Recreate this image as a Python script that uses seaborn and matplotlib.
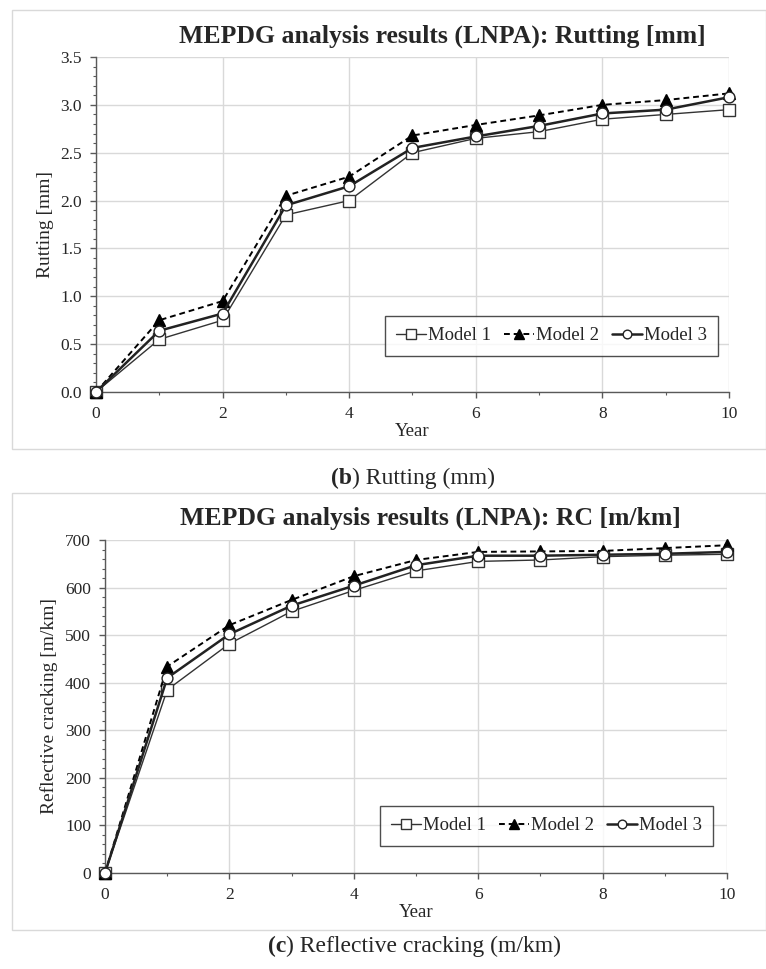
import numpy as np
import pandas as pd
import matplotlib
matplotlib.use("Agg")
import matplotlib.pyplot as plt
from matplotlib.patches import Rectangle
from matplotlib.ticker import MultipleLocator, FormatStrFormatter
import seaborn as sns

years = [0, 1, 2, 3, 4, 5, 6, 7, 8, 9, 10]
models = ["Model 1", "Model 2", "Model 3"]

rut_m1 = [0, 0.55, 0.75, 1.85, 2.00, 2.50, 2.65, 2.72, 2.85, 2.90, 2.95]
rut_m2 = [0, 0.75, 0.95, 2.05, 2.25, 2.68, 2.79, 2.89, 3.00, 3.05, 3.12]
rut_m3 = [0, 0.64, 0.82, 1.95, 2.15, 2.55, 2.67, 2.78, 2.91, 2.95, 3.08]

rc_m1 = [0, 385, 482, 550, 594, 635, 655, 658, 665, 668, 670]
rc_m2 = [0, 434, 521, 574, 624, 658, 675, 676, 677, 683, 689]
rc_m3 = [0, 410, 502, 562, 604, 647, 667, 667, 669, 671, 675]

sns.set_style("white")
plt.rcParams["font.family"] = ["Liberation Serif", "DejaVu Serif"]

W, H = 766, 969
fig = plt.figure(figsize=(W / 100, H / 100), dpi=100)

styles = {
    "Model 1": dict(marker="s", linestyle="-", lw=1.0, mfc="white", mec="#333333", ms=8.2, color="#333333"),
    "Model 2": dict(marker="^", linestyle=(0, (3, 2)), lw=1.4, mfc="black", mec="black", ms=8.6, color="black"),
    "Model 3": dict(marker="o", linestyle="-", lw=1.8, mfc="white", mec="#222222", ms=7.8, color="#222222"),
}

def panel(rect_px, frame_px, series, ylim, ymajor, yminor, yfmt, ylabel, title, title_xy,
          legend_anchor, caption, caption_xy):
    fx0, fy0, fx1, fy1 = frame_px
    fig.patches.append(Rectangle((fx0 / W, 1 - fy1 / H), (fx1 - fx0) / W, (fy1 - fy0) / H,
                                 transform=fig.transFigure, fill=False, ec="#d9d9d9", lw=1.0))
    x0, y0, x1, y1 = rect_px
    ax = fig.add_axes([x0 / W, 1 - y1 / H, (x1 - x0) / W, (y1 - y0) / H])
    rows = []
    for m, vals in zip(models, series):
        for yr, v in zip(years, vals):
            rows.append({"Year": yr, "Value": v, "Model": m})
    df = pd.DataFrame(rows)
    for m in models:
        st = styles[m]
        sns.lineplot(data=df[df["Model"] == m], x="Year", y="Value", ax=ax,
                     color=st["color"], linestyle=st["linestyle"], lw=st["lw"],
                     marker=st["marker"], markerfacecolor=st["mfc"], markeredgecolor=st["mec"],
                     markersize=st["ms"], markeredgewidth=1.0, label=m, clip_on=False, zorder=3)
    ax.set_xlim(0, 10)
    ax.set_ylim(*ylim)
    ax.xaxis.set_major_locator(MultipleLocator(2))
    ax.xaxis.set_minor_locator(MultipleLocator(1))
    ax.yaxis.set_major_locator(MultipleLocator(ymajor))
    ax.yaxis.set_minor_locator(MultipleLocator(yminor))
    ax.yaxis.set_major_formatter(yfmt)
    ax.grid(True, which="major", color="#d9d9d9", lw=1.0, zorder=0)
    ax.set_axisbelow(True)
    for s in ["top", "right"]:
        ax.spines[s].set_visible(False)
    for s in ["left", "bottom"]:
        ax.spines[s].set_color("#595959")
        ax.spines[s].set_linewidth(1.0)
    ax.tick_params(axis="both", which="major", direction="out", length=4, width=1, color="#595959",
                   labelsize=12.5, pad=6, left=True, bottom=True)
    ax.tick_params(axis="both", which="minor", direction="out", length=2.5, width=0.8, color="#595959",
                   left=True, bottom=True)
    ax.set_xlabel("Year", fontsize=13.5, labelpad=1)
    ax.set_ylabel(ylabel, fontsize=14, labelpad=5)
    fig.text(title_xy[0] / W, 1 - title_xy[1] / H, title, fontsize=18.5, fontweight="bold",
             ha="center", va="center")
    leg = ax.legend(loc="upper right", bbox_to_anchor=legend_anchor, ncol=3, frameon=True,
                    fontsize=13.5, handlelength=1.6, handletextpad=0.1, columnspacing=0.7,
                    borderpad=0.6, borderaxespad=0, fancybox=False, markerscale=0.8)
    leg.get_frame().set_edgecolor("#222222")
    leg.get_frame().set_linewidth(1.0)
    fig.text(caption_xy[0] / W, 1 - caption_xy[1] / H, caption[0], fontsize=17, fontweight="bold",
             ha="right", va="center")
    fig.text(caption_xy[0] / W, 1 - caption_xy[1] / H, caption[1], fontsize=17, ha="left", va="center")
    return ax

panel((96, 57, 729, 392), (12, 10, 766, 449), [rut_m1, rut_m2, rut_m3], (0, 3.5), 0.5, 0.1,
      FormatStrFormatter("%.1f"), "Rutting [mm]",
      "MEPDG analysis results (LNPA): Rutting [mm]", (442, 36), ((718 - 96) / 633, (392 - 316) / 335),
      ("(b", ") Rutting (mm)"), (352, 478))

panel((105, 540, 727, 873), (12, 493, 766, 930), [rc_m1, rc_m2, rc_m3], (0, 700), 100, 20,
      FormatStrFormatter("%d"), "Reflective cracking [m/km]",
      "MEPDG analysis results (LNPA): RC [m/km]", (430, 518), ((713 - 105) / 622, (873 - 806) / 333),
      ("(c", ") Reflective cracking (m/km)"), (286, 946))

fig.savefig("out.png", dpi=100)
